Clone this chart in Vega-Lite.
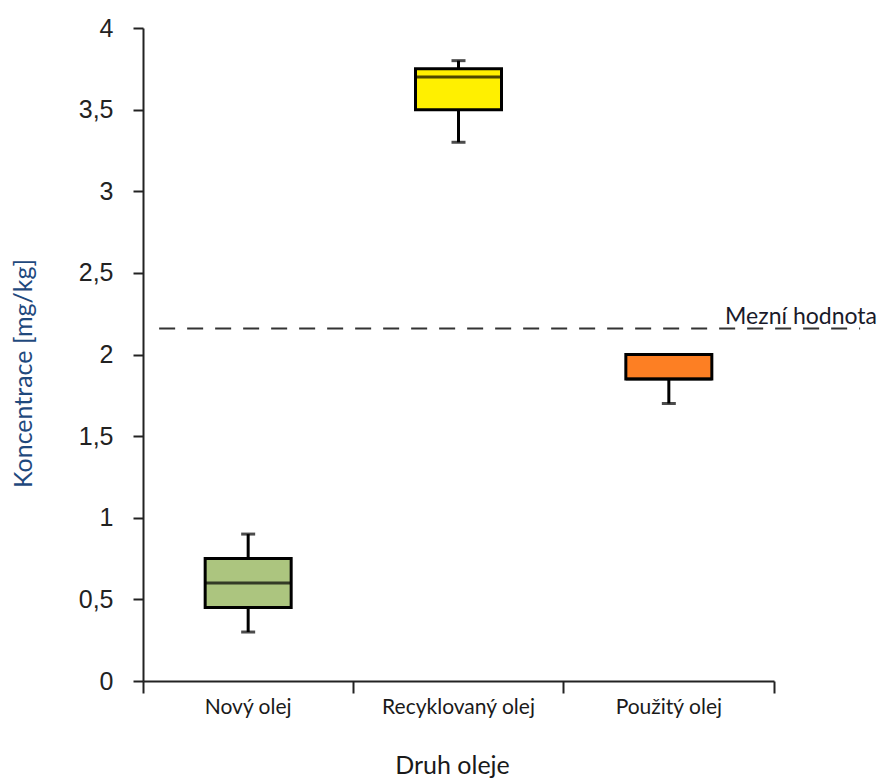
{
  "$schema": "https://vega.github.io/schema/vega-lite/v6.json",
  "autosize": {"type": "none"},
  "padding": {"left": 143, "top": 28, "right": 105, "bottom": 97},
  "width": 631,
  "height": 653,
  "background": "white",
  "config": {"view": {"stroke": null}},
  "layer": [
    {
      "data": {"values": [
        {"oil": "Nový olej", "min": 0.3, "q1": 0.45, "median": 0.6, "q3": 0.75, "max": 0.9},
        {"oil": "Recyklovaný olej", "min": 3.3, "q1": 3.5, "median": 3.7, "q3": 3.75, "max": 3.8},
        {"oil": "Použitý olej", "min": 1.7, "q1": 1.85, "median": 1.85, "q3": 2.0, "max": 2.0}
      ]},
      "encoding": {
        "x": {
          "field": "oil", "type": "nominal", "sort": null,
          "scale": {"paddingInner": 0, "paddingOuter": 0},
          "axis": {
            "title": "Druh oleje", "labelAngle": 0,
            "bandPosition": 1, "tickExtra": true, "tickSize": 12,
            "labelOffset": 0, "labelPadding": 3,
            "domainColor": "#222", "domainWidth": 2, "tickColor": "#222", "tickWidth": 2,
            "labelFont": "Lato", "labelFontSize": 21, "labelColor": "#1a1a1a",
            "titleFont": "Lato", "titleFontSize": 25, "titleFontWeight": "normal", "titleColor": "#1a1a1a",
            "titleX": 309, "titleY": 92, "titleBaseline": "alphabetic", "titleAlign": "center"
          }
        }
      },
      "layer": [
        {
          "mark": {"type": "rule", "color": "black", "strokeWidth": 3},
          "encoding": {
            "y": {"field": "min", "type": "quantitative", "scale": {"domain": [0, 4]},
              "axis": {
                "title": "Koncentrace [mg/kg]", "values": [0, 0.5, 1, 1.5, 2, 2.5, 3, 3.5, 4],
                "format": ".1~f",
                "labelExpr": "replace(datum.label, '.', ',')", "grid": false,
                "domainColor": "#222", "domainWidth": 2, "tickColor": "#222", "tickWidth": 2, "tickSize": 10,
                "labelPadding": 20, "labelFont": "Liberation Sans", "labelFontSize": 25, "labelColor": "#222",
                "titleFont": "Lato", "titleFontSize": 25, "titleFontWeight": "normal", "titleColor": "#1f497d",
                "titleX": -120, "titleY": 345, "titleBaseline": "middle", "titleAlign": "center", "titleAngle": -90
              }},
            "y2": {"field": "max"}
          }
        },
        {
          "mark": {"type": "tick", "color": "black", "thickness": 3, "size": 14},
          "encoding": {"y": {"field": "min", "type": "quantitative"}}
        },
        {
          "mark": {"type": "tick", "color": "black", "thickness": 3, "size": 14},
          "encoding": {"y": {"field": "max", "type": "quantitative"}}
        },
        {
          "mark": {"type": "bar", "size": 86, "stroke": "black", "strokeWidth": 3},
          "encoding": {
            "y": {"field": "q1", "type": "quantitative"},
            "y2": {"field": "q3"},
            "color": {"field": "oil", "type": "nominal", "legend": null,
              "scale": {"domain": ["Nový olej", "Recyklovaný olej", "Použitý olej"], "range": ["#acc57f", "#fff000", "#fd7f23"]}}
          }
        },
        {
          "mark": {"type": "tick", "color": "black", "thickness": 3, "size": 86},
          "encoding": {"y": {"field": "median", "type": "quantitative"}}
        }
      ]
    },
    {
      "data": {"values": [{"label": "Mezní hodnota", "limit": 2.16}]},
      "layer": [
        {
          "mark": {"type": "rule", "color": "#333", "strokeWidth": 2, "strokeDash": [16, 12]},
          "encoding": {
            "x": {"datum": 0.022, "type": "quantitative", "scale": {"domain": [0, 1], "range": [0, 734]}, "axis": null},
            "x2": {"datum": 0.977},
            "y": {"field": "limit", "type": "quantitative"}
          }
        },
        {
          "mark": {"type": "text", "align": "right", "baseline": "alphabetic", "dy": -4, "font": "Lato", "fontSize": 23, "color": "#1a1a2a"},
          "encoding": {
            "x": {"datum": 1, "type": "quantitative"},
            "y": {"field": "limit", "type": "quantitative"},
            "text": {"field": "label"}
          }
        }
      ]
    }
  ],
  "resolve": {"scale": {"x": "independent"}, "axis": {"x": "independent"}}
}
